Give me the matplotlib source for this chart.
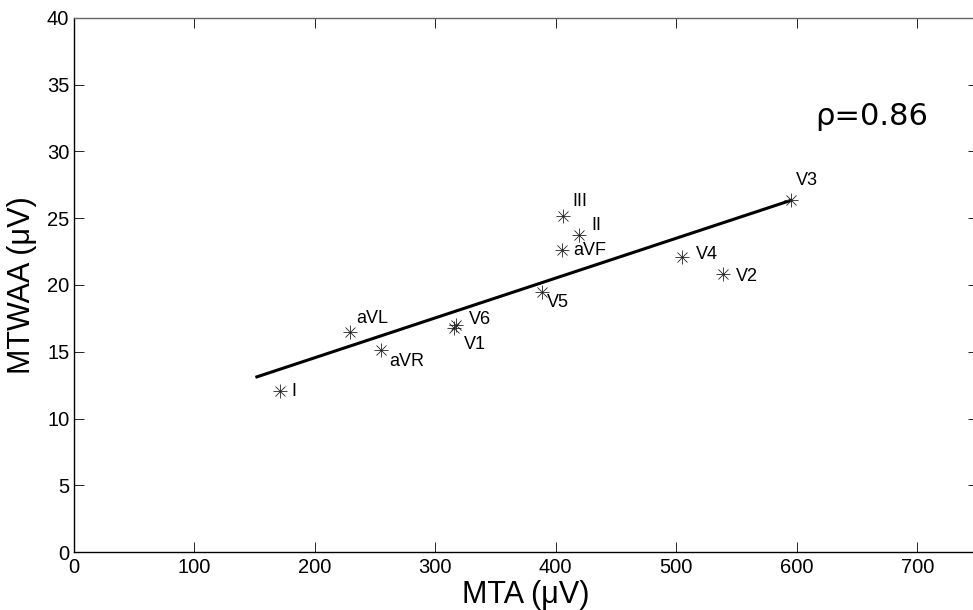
import matplotlib
matplotlib.use('Agg')
import matplotlib.pyplot as plt

plt.rcParams['font.family'] = ['Liberation Sans', 'DejaVu Sans']

######## DATA ##################################################################
leads = ['I', 'aVL', 'aVR', 'V6', 'V1', 'V5', 'III', 'II', 'aVF', 'V4', 'V2', 'V3']
mta = [171.6, 229.6, 255.3, 317.0, 315.5, 389.0, 406.0, 419.2, 405.4, 505.1, 538.6, 595.3]
mtwaa = [12.09, 16.46, 15.14, 17.0, 16.8, 19.5, 25.19, 23.74, 22.6, 22.07, 20.82, 26.36]
# label offsets in pixels (x, y)
labelOffsets = [(14, -1), (22, 14), (25, -12), (24, 6), (21, -17), (15, -11),
                (17, 14), (18, 10), (28, 0), (25, 3), (24, -2), (16, 19)]
fitX = [150.9, 596.0]
fitY = [13.09, 26.36]
rho = 0.86
xTicks = [0, 100, 200, 300, 400, 500, 600, 700]
yTicks = [0, 5, 10, 15, 20, 25, 30, 35, 40]
################################################################################

fig = plt.figure(figsize=(9.73, 6.10), dpi=100)
ax = fig.add_axes([73.5/973, 1-552.3/610, (977.6-73.5)/973, (552.3-17.7)/610])

ax.plot(fitX, fitY, color='black', linewidth=2.2, solid_capstyle='butt')
for m in ['+', 'x']:
    ax.plot(mta, mtwaa, linestyle='none', marker=m, color='#222222',
            markersize=10 if m == '+' else 7.5, markeredgewidth=0.6)

for lead, x, y, off in zip(leads, mta, mtwaa, labelOffsets):
    ax.annotate(lead, (x, y), xytext=off, textcoords='offset pixels',
                ha='center', va='center', fontsize=13)

ax.text(872/1.206 - 73.1/1.206, 32.0, '\u03c1=%.2f' % rho, ha='center',
        va='baseline', fontsize=22, family=['DejaVu Sans'])

ax.set_xlim(0, 750)
ax.set_ylim(0, 40)
ax.set_xticks(xTicks)
ax.set_yticks(yTicks)
ax.tick_params(direction='in', length=7, width=0.6, top=True, right=True,
               labelsize=14.5)
ax.tick_params(axis='x', pad=4)
ax.tick_params(axis='y', pad=3)
for s in ax.spines.values():
    s.set_linewidth(1.0)
ax.spines['top'].set_color('#666666')
ax.set_xlabel('MTA (\u03bcV)', fontsize=22, labelpad=2)
ax.set_ylabel('MTWAA (\u03bcV)', fontsize=22, labelpad=7)

fig.savefig('out.png', dpi=100)
